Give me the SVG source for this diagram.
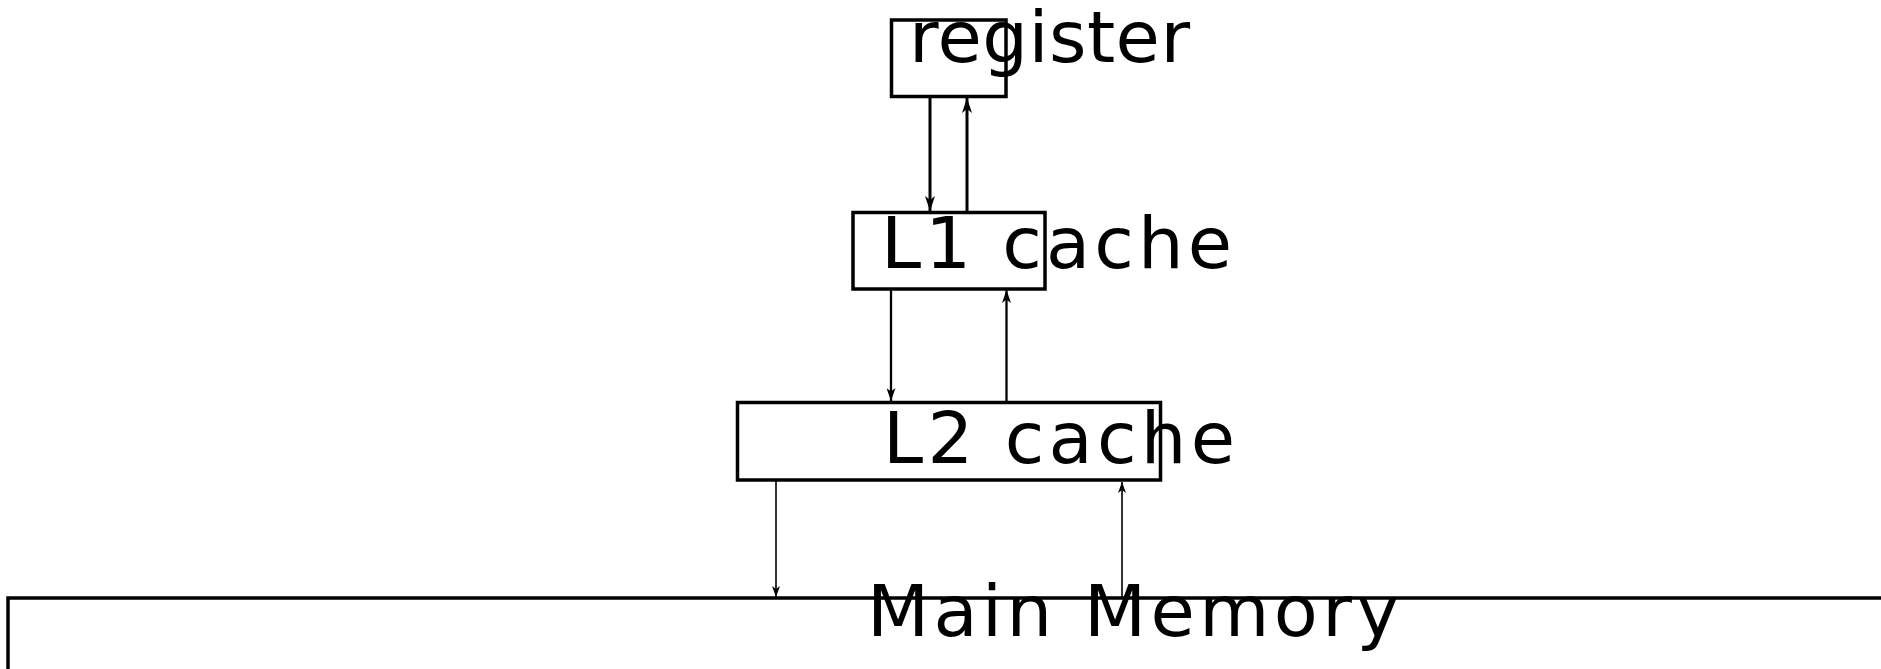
<svg xmlns="http://www.w3.org/2000/svg" width="1881" height="669" viewBox="0 0 1881 669">
  <defs>
    <style>
      .box { fill: none; stroke: #000; stroke-width: 3.5; stroke-linejoin: miter; }
      .lbl { font-family: "DejaVu Sans", "Liberation Sans", sans-serif; font-size: 72px; fill: #000; }
      .c1 { stroke: #000; stroke-width: 3; fill: none; }
      .c2 { stroke: #000; stroke-width: 2.3; fill: none; }
      .c3 { stroke: #000; stroke-width: 1.6; fill: none; }
    </style>
    <marker id="ah1" viewBox="0 0 15 10" refX="15" refY="5" markerWidth="15" markerHeight="10" orient="auto" markerUnits="userSpaceOnUse">
      <path d="M0,0 L15,5 L0,10 L4,5 Z" fill="#000"/>
    </marker>
    <marker id="ah2" viewBox="0 0 13 9" refX="13" refY="4.5" markerWidth="13" markerHeight="9" orient="auto" markerUnits="userSpaceOnUse">
      <path d="M0,0 L13,4.5 L0,9 L3.5,4.5 Z" fill="#000"/>
    </marker>
    <marker id="ah3" viewBox="0 0 11 8" refX="11" refY="4" markerWidth="11" markerHeight="8" orient="auto" markerUnits="userSpaceOnUse">
      <path d="M0,0 L11,4 L0,8 L3,4 Z" fill="#000"/>
    </marker>
  </defs>
  <rect width="1881" height="669" fill="#fff"/>

  <g id="connectors">
    <line class="c1" x1="930" y1="97" x2="930" y2="211" marker-end="url(#ah1)"/>
    <line class="c1" x1="967" y1="212" x2="967" y2="98" marker-end="url(#ah1)"/>
    <line class="c2" x1="891" y1="289" x2="891" y2="401" marker-end="url(#ah2)"/>
    <line class="c2" x1="1006.5" y1="402" x2="1006.5" y2="290" marker-end="url(#ah2)"/>
    <line class="c3" x1="776" y1="481" x2="776" y2="597" marker-end="url(#ah3)"/>
    <line class="c3" x1="1122" y1="597" x2="1122" y2="482" marker-end="url(#ah3)"/>
  </g>

  <g id="register">
    <rect class="box" x="891.5" y="20" width="114.5" height="76.5"/>
    <text class="lbl" x="909" y="62" textLength="281">register</text>
  </g>

  <g id="l1-cache">
    <rect class="box" x="853" y="212.5" width="192" height="76.5"/>
    <text class="lbl" x="881" y="268" textLength="351">L1 cache</text>
  </g>

  <g id="l2-cache">
    <rect class="box" x="737.5" y="402.5" width="423" height="77.5"/>
    <text class="lbl" x="883" y="463" font-size="70" textLength="352">L2 cache</text>
  </g>

  <g id="main-memory">
    <rect class="box" x="8" y="598" width="1890" height="100"/>
    <text class="lbl" x="867" y="636" font-size="68" textLength="532">Main Memory</text>
  </g>
</svg>
